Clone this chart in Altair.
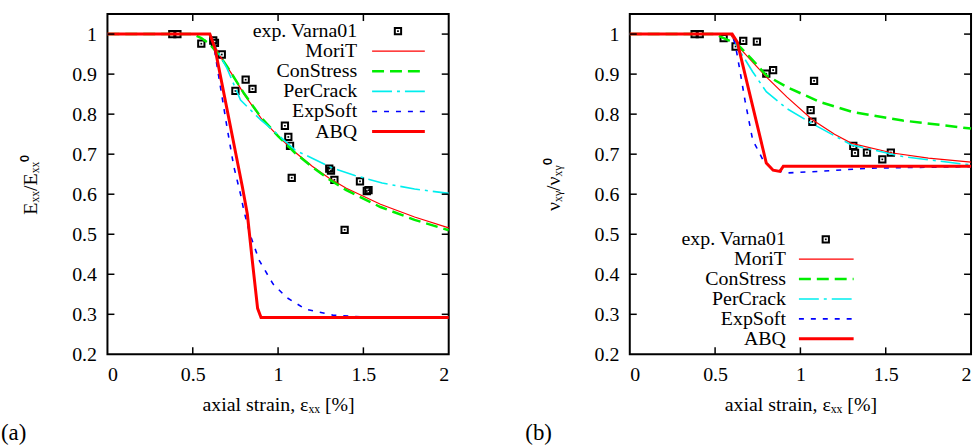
import altair as alt
import pandas as pd

FONT = "Liberation Serif"

# ---------------- data: panel (a) ----------------
exp_x_a = [0.38, 0.41, 0.55, 0.62, 0.63, 0.67, 0.75, 0.81, 0.85, 1.04, 1.06, 1.07, 1.08,
           1.30, 1.31, 1.33, 1.39, 1.48, 1.52, 1.53]
exp_y_a = [1.0, 1.0, 0.976, 0.984, 0.978, 0.949, 0.858, 0.886, 0.863, 0.771, 0.743, 0.721, 0.641,
           0.664, 0.659, 0.636, 0.511, 0.632, 0.608, 0.610]

morit_x_a = [0, 0.6, 0.63, 0.66, 0.74, 0.8, 0.9, 1.0, 1.1, 1.2, 1.3, 1.4, 1.6, 1.8, 2.0]
morit_y_a = [1, 1, 0.97, 0.945, 0.893, 0.85, 0.79, 0.745, 0.705, 0.67, 0.64, 0.615, 0.575, 0.543, 0.516]
cons_x_a = [0, 0.5, 0.55, 0.6, 0.65, 0.7, 0.8, 0.9, 1.0, 1.1, 1.2, 1.3, 1.4, 1.6, 1.8, 2.0]
cons_y_a = [1, 1, 0.99, 0.975, 0.95, 0.92, 0.852, 0.792, 0.745, 0.703, 0.668, 0.637, 0.61, 0.568, 0.536, 0.51]
perc_x_a = [0, 0.6, 0.63, 0.7, 0.78, 0.9, 0.97, 1.1, 1.2, 1.32, 1.45, 1.61, 1.8, 2.0]
perc_y_a = [1, 1, 0.97, 0.915, 0.835, 0.785, 0.76, 0.71, 0.69, 0.665, 0.647, 0.628, 0.613, 0.602]
exps_x_a = [0, 0.6, 0.62, 0.65, 0.7, 0.74, 0.78, 0.8, 0.835, 0.89, 0.97, 1.05, 1.16, 1.32, 1.51, 2.0]
exps_y_a = [1, 1, 0.98, 0.9, 0.769, 0.67, 0.6, 0.558, 0.5, 0.434, 0.376, 0.342, 0.313, 0.298, 0.293, 0.292]
abq_x_a = [0, 0.6, 0.63, 0.79, 0.82, 0.85, 0.88, 0.9, 2.0]
abq_y_a = [1, 1, 0.965, 0.62, 0.55, 0.43, 0.315, 0.292, 0.292]

# ---------------- data: panel (b) ----------------
exp_x_b = [0.38, 0.41, 0.55, 0.62, 0.665, 0.745, 0.80, 0.84, 1.06, 1.07, 1.08, 1.31, 1.32, 1.39, 1.48, 1.53]
exp_y_b = [1.0, 1.0, 0.99, 0.969, 0.983, 0.981, 0.901, 0.91, 0.81, 0.781, 0.883, 0.721, 0.703, 0.704, 0.687, 0.704]

morit_x_b = [0, 0.59, 0.63, 0.72, 0.8, 0.92, 1.07, 1.2, 1.3, 1.54, 1.75, 2.0]
morit_y_b = [1, 1, 0.972, 0.93, 0.893, 0.843, 0.786, 0.75, 0.727, 0.703, 0.69, 0.68]
cons_x_b = [0, 0.5, 0.55, 0.63, 0.72, 0.8, 0.92, 1.11, 1.3, 1.6, 2.0]
cons_y_b = [1, 1, 0.99, 0.975, 0.935, 0.897, 0.868, 0.831, 0.806, 0.784, 0.764]
perc_x_b = [0, 0.6, 0.63, 0.72, 0.8, 0.92, 1.07, 1.3, 1.6, 2.0]
perc_y_b = [1, 1, 0.968, 0.906, 0.856, 0.814, 0.776, 0.723, 0.694, 0.673]
exps_x_b = [0, 0.6, 0.62, 0.645, 0.675, 0.72, 0.78, 0.84, 0.92, 1.11, 1.4, 1.7, 2.0]
exps_y_b = [1, 1, 0.97, 0.91, 0.835, 0.736, 0.686, 0.661, 0.653, 0.657, 0.665, 0.667, 0.669]
abq_x_b = [0, 0.6, 0.63, 0.8, 0.84, 0.88, 0.9, 2.0]
abq_y_b = [1, 1, 0.98, 0.678, 0.66, 0.657, 0.67, 0.67]

# ---------------- labels / ticks ----------------
series_names = ["MoriT", "ConStress", "PerCrack", "ExpSoft", "ABQ"]
legend_labels = ["exp. Varna01"] + series_names
x_ticks = [0, 0.5, 1, 1.5, 2]
y_ticks = [0.2, 0.3, 0.4, 0.5, 0.6, 0.7, 0.8, 0.9, 1.0]
x_inner = [0.5, 1, 1.5]
y_inner = [0.3, 0.4, 0.5, 0.6, 0.7, 0.8, 0.9, 1.0]
x_title = "axial strain, εₓₓ [%]"

STYLE = {
    "MoriT": dict(color="#ff0000", strokeWidth=1.2),
    "ConStress": dict(color="#00ee00", strokeWidth=2.5, strokeDash=[12, 6]),
    "PerCrack": dict(color="#00eeee", strokeWidth=1.6, strokeDash=[20, 5, 3, 5]),
    "ExpSoft": dict(color="#0000ff", strokeWidth=1.6, strokeDash=[5, 7]),
    "ABQ": dict(color="#ff0000", strokeWidth=3),
}

W, H = 343, 342
XS = alt.Scale(domain=[0, 2], nice=False, zero=False)
YS = alt.Scale(domain=[0.2, 1.05], nice=False, zero=False)


def panel(exp_x, exp_y, curves, ytitle, tag, leg):
    layers = []
    xaxis = alt.Axis(values=x_ticks, format="~g", title=x_title,
                     labelPadding=10, titlePadding=10, tickSize=0, ticks=False, domain=False,
                     grid=False)
    yaxis = alt.Axis(values=y_ticks, format="~g", title=ytitle,
                     labelPadding=11, titlePadding=31, tickSize=0, ticks=False, domain=False,
                     grid=False)

    def X(f):
        return alt.X(f, scale=XS, axis=xaxis)

    def Y(f):
        return alt.Y(f, scale=YS, axis=yaxis)

    exp_df = pd.DataFrame({"x": exp_x, "y": exp_y})
    # experimental points
    layers.append(alt.Chart(exp_df).mark_point(shape="square", filled=False, color="black",
                                               strokeWidth=2, size=40, opacity=1).encode(
        x=X("x:Q"), y=Y("y:Q")))
    layers.append(alt.Chart(exp_df).mark_point(shape="square", filled=True, color="black",
                                               size=3, opacity=1).encode(
        x=X("x:Q"), y=Y("y:Q")))
    leg_df = pd.DataFrame({"label": legend_labels, "i": list(range(len(legend_labels)))})
    ly_expr = f"{leg['y0']} - {leg['step']} * datum.i"
    # curves + legend samples
    for name in series_names:
        xs, ys = curves[name]
        df = pd.DataFrame({"x": xs, "y": ys})
        layers.append(alt.Chart(df).mark_line(**STYLE[name]).encode(
            x=X("x:Q"), y=Y("y:Q")))
        layers.append(alt.Chart(leg_df).transform_filter(
            alt.datum.label == name).transform_calculate(ly=ly_expr).mark_rule(
            **STYLE[name]).encode(
            x=alt.value(leg["s0"]), x2=alt.value(leg["s1"]), y=Y("ly:Q")))
    # legend text
    layers.append(alt.Chart(leg_df).transform_calculate(ly=ly_expr).mark_text(
        align="right", baseline="middle", font=FONT, fontSize=20, color="black").encode(
        x=alt.value(leg["tx"]), y=Y("ly:Q"), text="label:N"))
    # legend point
    pt = alt.Chart(leg_df).transform_filter(alt.datum.i == 0).transform_calculate(ly=ly_expr)
    layers.append(pt.mark_point(shape="square", filled=False, color="black", strokeWidth=2,
                                size=40, opacity=1).encode(
        x=alt.value(leg["px"]), y=Y("ly:Q")))
    layers.append(pt.mark_point(shape="square", filled=True, color="black", size=3,
                                opacity=1).encode(
        x=alt.value(leg["px"]), y=Y("ly:Q")))
    # inner ticks (gnuplot style)
    ydf = pd.DataFrame({"v": y_inner})
    xdf = pd.DataFrame({"v": x_inner})
    tk = dict(color="black", strokeWidth=1.5)
    layers.append(alt.Chart(ydf).mark_rule(**tk).encode(
        x=alt.value(0), x2=alt.value(7), y=Y("v:Q")))
    layers.append(alt.Chart(ydf).mark_rule(**tk).encode(
        x=alt.value(W - 7), x2=alt.value(W), y=Y("v:Q")))
    layers.append(alt.Chart(xdf).mark_rule(**tk).encode(
        y=alt.value(H - 7), y2=alt.value(H), x=X("v:Q")))
    layers.append(alt.Chart(xdf).mark_rule(**tk).encode(
        y=alt.value(0), y2=alt.value(7), x=X("v:Q")))
    # panel tag
    layers.append(alt.Chart(pd.DataFrame({"t": [tag]})).mark_text(
        align="left", baseline="middle", font=FONT, fontSize=23, color="black").encode(
        x=alt.value(leg["tagx"]), y=alt.value(421), text="t:N"))
    return alt.layer(*layers).properties(width=W, height=H)


curves_a = {"MoriT": (morit_x_a, morit_y_a), "ConStress": (cons_x_a, cons_y_a),
            "PerCrack": (perc_x_a, perc_y_a), "ExpSoft": (exps_x_a, exps_y_a),
            "ABQ": (abq_x_a, abq_y_a)}
curves_b = {"MoriT": (morit_x_b, morit_y_b), "ConStress": (cons_x_b, cons_y_b),
            "PerCrack": (perc_x_b, perc_y_b), "ExpSoft": (exps_x_b, exps_y_b),
            "ABQ": (abq_x_b, abq_y_b)}

leg_a = dict(y0=1.0075, step=0.0502, tx=251, s0=266, s1=319, px=292, tagx=-107)
leg_b = dict(y0=0.4873, step=0.0497, tx=157, s0=170, s1=225, px=197, tagx=-105)

left = panel(exp_x_a, exp_y_a, curves_a, "Eₓₓ/Eₓₓ⁰", "(a)", leg_a)
right = panel(exp_x_b, exp_y_b, curves_b, "νₓᵧ/νₓᵧ⁰", "(b)", leg_b)

chart = alt.hconcat(left, right, spacing=69).properties(
    padding={"left": 0, "top": 11, "right": 0, "bottom": 0},
    background="white"
).configure_view(stroke="black", strokeWidth=2).configure_axis(
    labelFont=FONT, labelFontSize=20, labelColor="black",
    titleFont=FONT, titleFontSize=20, titleColor="black", titleFontWeight="normal"
)

chart.save("out.html", embed_options={"renderer": "svg", "actions": False})
